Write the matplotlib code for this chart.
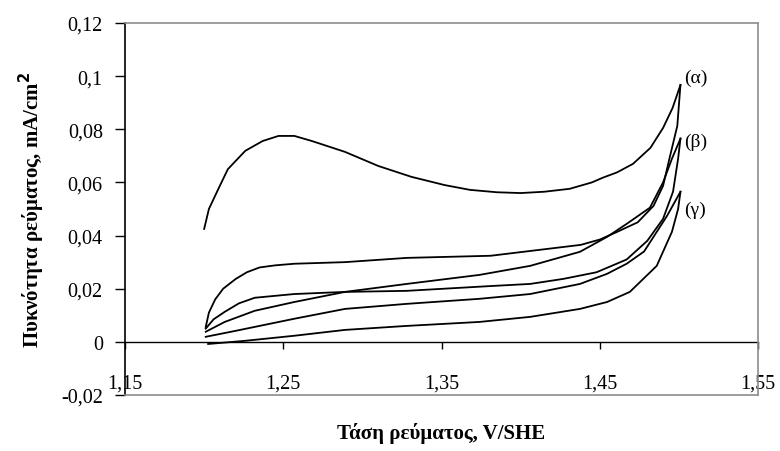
import matplotlib
matplotlib.use("Agg")
import matplotlib.pyplot as plt

# (α) loop: forward and return branch
alpha_fwd_x = [1.200, 1.203, 1.209, 1.215, 1.226, 1.237, 1.247, 1.257, 1.268, 1.289, 1.310, 1.331,
               1.352, 1.368, 1.385, 1.400, 1.415, 1.431, 1.445, 1.452, 1.461, 1.471, 1.482, 1.490,
               1.496, 1.501]
alpha_fwd_y = [0.0425, 0.050, 0.0576, 0.065, 0.0719, 0.0756, 0.0775, 0.0775, 0.0756, 0.0715, 0.0662,
               0.0621, 0.0590, 0.0572, 0.0563, 0.0560, 0.0565, 0.0576, 0.0600, 0.0618, 0.0638,
               0.0670, 0.0730, 0.0805, 0.0880, 0.0967]
alpha_ret_x = [1.501, 1.499, 1.494, 1.490, 1.484, 1.474, 1.461, 1.450, 1.438, 1.406, 1.381, 1.328,
               1.289, 1.257, 1.245, 1.235, 1.227, 1.220, 1.212, 1.207, 1.203, 1.201]
alpha_ret_y = [0.0967, 0.0813, 0.0689, 0.0587, 0.0512, 0.0450, 0.0414, 0.0385, 0.0365, 0.0342,
               0.0324, 0.0316, 0.0300, 0.0294, 0.0288, 0.0280, 0.0262, 0.0237, 0.0200, 0.0160,
               0.0110, 0.0056]

# (β) loop
beta_up_x = [1.201, 1.213, 1.232, 1.257, 1.289, 1.328, 1.374, 1.406, 1.4375, 1.4546, 1.467,
             1.4817, 1.490, 1.4956, 1.501]
beta_up_y = [0.0038, 0.0075, 0.0117, 0.0150, 0.0188, 0.0218, 0.0252, 0.0286, 0.0339, 0.0395,
             0.0444, 0.0505, 0.0600, 0.0689, 0.0765]
beta_low_x = [1.201, 1.206, 1.213, 1.222, 1.232, 1.257, 1.289, 1.328, 1.381, 1.406, 1.427, 1.448,
              1.467, 1.480, 1.490, 1.4963, 1.4995, 1.501]
beta_low_y = [0.0050, 0.0085, 0.0113, 0.0145, 0.0166, 0.0180, 0.0188, 0.0192, 0.0210, 0.0218,
              0.0237, 0.0262, 0.0310, 0.0380, 0.0463, 0.0565, 0.0689, 0.0765]

# (γ) loop
gamma_up_x = [1.201, 1.2195, 1.257, 1.289, 1.328, 1.374, 1.406, 1.4375, 1.4546, 1.467, 1.478,
              1.4925, 1.501]
gamma_up_y = [0.0019, 0.0041, 0.0087, 0.0124, 0.0143, 0.0162, 0.0180, 0.0218, 0.0256, 0.0294,
              0.0340, 0.0474, 0.0565]
gamma_low_x = [1.2025, 1.226, 1.257, 1.289, 1.328, 1.374, 1.406, 1.4375, 1.4546, 1.469, 1.486,
               1.4956, 1.4995, 1.501]
gamma_low_y = [-0.0008, 0.0004, 0.0023, 0.0045, 0.0060, 0.0075, 0.0094, 0.0124, 0.0150, 0.0188,
               0.0286, 0.0414, 0.0500, 0.0565]

curve_labels = ["(α)", "(β)", "(γ)"]
label_y = [0.0997, 0.0753, 0.0500]

x_ticks = [1.15, 1.25, 1.35, 1.45, 1.55]
y_ticks = [-0.02, 0, 0.02, 0.04, 0.06, 0.08, 0.1, 0.12]


def comma(v):
    s = f"{v:g}"
    return s.replace(".", ",")


plt.rcParams["font.family"] = ["Liberation Serif", "DejaVu Serif"]

fig = plt.figure(figsize=(7.8, 4.52), dpi=100)
ax = fig.add_axes([0.1603, 0.1239, 0.8115, 0.823])

for xs, ys in [(alpha_fwd_x, alpha_fwd_y), (alpha_ret_x, alpha_ret_y),
               (beta_up_x, beta_up_y), (beta_low_x, beta_low_y),
               (gamma_up_x, gamma_up_y), (gamma_low_x, gamma_low_y)]:
    ax.plot(xs, ys, color="black", lw=1.3)

for lab, ly in zip(curve_labels, label_y):
    ax.text(1.5035, ly, lab, fontsize=14, va="center", ha="left")

ax.set_xlim(1.15, 1.55)
ax.set_ylim(-0.02, 0.12)

ax.set_yticks(y_ticks)
ax.set_yticklabels([comma(v) for v in y_ticks], fontsize=14.5)
ax.tick_params(axis="y", direction="out", length=7, width=1, pad=9)
ax.tick_params(axis="x", bottom=False, labelbottom=False)

for side in ["top", "right", "bottom"]:
    ax.spines[side].set_color("#8c8c8c")
    ax.spines[side].set_linewidth(1.2)
ax.spines["left"].set_color("black")
ax.spines["left"].set_linewidth(1.2)

# x axis crossing at y = 0
sec = ax.secondary_xaxis(0.02 / 0.14)
sec.set_xticks(x_ticks)
sec.set_xticklabels([comma(v) for v in x_ticks], fontsize=14.5)
sec.tick_params(direction="out", length=5, width=1, pad=18)
sec.spines["bottom"].set_color("black")
sec.spines["bottom"].set_linewidth(1)

ax.set_ylabel("Πυκνότητα ρεύματος, mA/cm$^\\mathbf{2}$", fontsize=15, fontweight="bold", labelpad=10)
fig.text(0.566, 0.042, "Τάση ρεύματος, V/SHE", fontsize=15, fontweight="bold", ha="center", va="center")

fig.savefig("out.png", dpi=100)
